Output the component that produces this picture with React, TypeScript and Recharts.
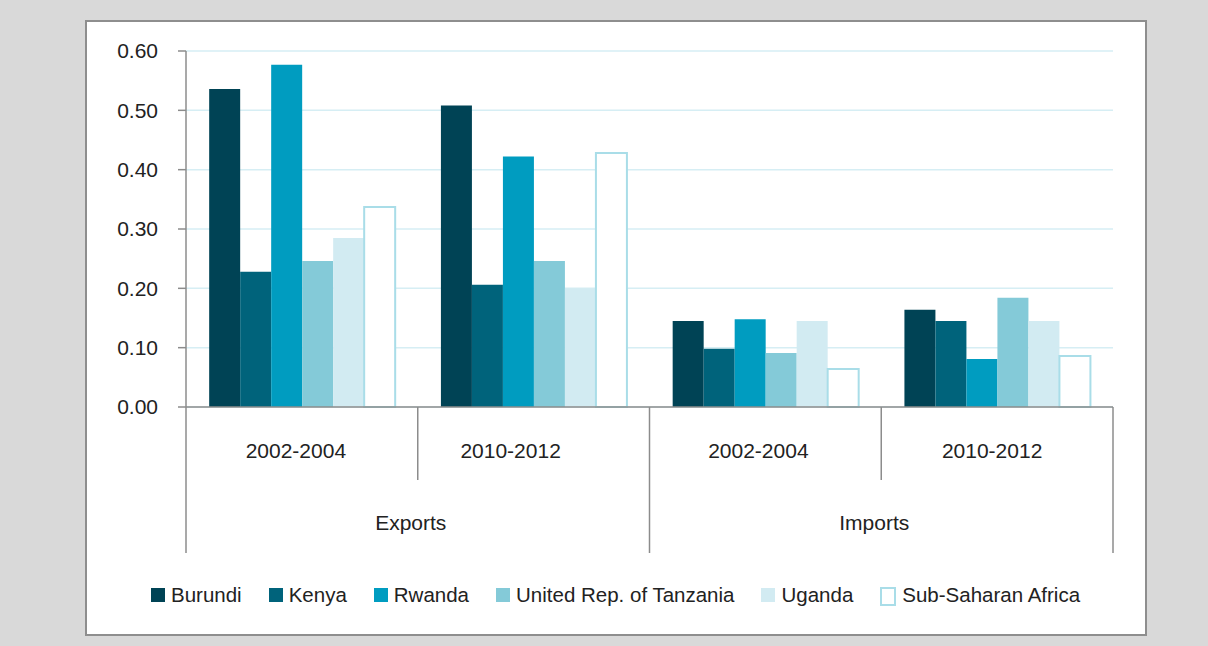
import React from "react"
import {
  BarChart,
  Bar,
  XAxis,
  YAxis,
  CartesianGrid,
  Legend,
} from "recharts"

// categories
const periods = ["2002-2004", "2010-2012", "2002-2004", "2010-2012"]
const groups = ["Exports", "Exports", "Imports", "Imports"]

// series values
const burundi = [0.536, 0.508, 0.145, 0.164]
const kenya = [0.228, 0.206, 0.098, 0.145]
const rwanda = [0.577, 0.422, 0.148, 0.081]
const tanzania = [0.246, 0.246, 0.091, 0.184]
const uganda = [0.285, 0.2, 0.145, 0.145]
const ssa = [0.337, 0.428, 0.064, 0.086]

const yTicks = [0, 0.1, 0.2, 0.3, 0.4, 0.5, 0.6]

const SERIES = [
  { key: "burundi", name: "Burundi", fill: "#004355", stroke: "none" },
  { key: "kenya", name: "Kenya", fill: "#00637b", stroke: "none" },
  { key: "rwanda", name: "Rwanda", fill: "#009cc0", stroke: "none" },
  { key: "tanzania", name: "United Rep. of Tanzania", fill: "#84cad8", stroke: "none" },
  { key: "uganda", name: "Uganda", fill: "#d2ebf2", stroke: "none" },
  { key: "ssa", name: "Sub-Saharan Africa", fill: "#ffffff", stroke: "#a9dde8" },
]

const data = periods.map((period, i) => ({
  period,
  group: groups[i],
  burundi: burundi[i],
  kenya: kenya[i],
  rwanda: rwanda[i],
  tanzania: tanzania[i],
  uganda: uganda[i],
  ssa: ssa[i],
}))

const FONT = "'Liberation Sans', Arial, sans-serif"
const AXIS = "#8c8c8c"
const TEXT = "#222"

const W = 1208
const H = 646
const MARGIN = { top: 51, right: 95, bottom: 0, left: 106 }
const Y_AXIS_W = 80
const BAND_HALF = (W - MARGIN.left - Y_AXIS_W - MARGIN.right) / periods.length / 2

// the original labels sit a little left of the band centres
const PERIOD_DX = [-6, -23, -7, -5]
const GROUP_DX = -7

// two level category axis: period labels + group labels with divider lines
function TwoLevelTick(props: any) {
  const { x, y, payload, index } = props
  const half = payload && payload.offset ? payload.offset : BAND_HALF
  const left = x - half
  const right = x + half
  const firstOfGroup = index === 0 || groups[index] !== groups[index - 1]
  const last = index === periods.length - 1
  return (
    <g>
      <line
        x1={left}
        x2={left}
        y1={y}
        y2={y + (firstOfGroup ? 146 : 73)}
        stroke={AXIS}
        strokeWidth={1.5}
      />
      {last && (
        <line x1={right} x2={right} y1={y} y2={y + 146} stroke={AXIS} strokeWidth={1.5} />
      )}
      <text
        x={x + (PERIOD_DX[index] || 0)}
        y={y + 51}
        textAnchor="middle"
        fontSize={21}
        fill={TEXT}
        fontFamily={FONT}
      >
        {payload.value}
      </text>
      {firstOfGroup && (
        <text
          x={right + GROUP_DX}
          y={y + 123}
          textAnchor="middle"
          fontSize={21}
          fill={TEXT}
          fontFamily={FONT}
        >
          {groups[index]}
        </text>
      )}
    </g>
  )
}

function LegendContent() {
  return (
    <div
      style={{
        display: "flex",
        alignItems: "center",
        paddingLeft: 151,
        paddingTop: 30,
        fontFamily: FONT,
        fontSize: 20.5,
        color: TEXT,
        lineHeight: "20px",
        whiteSpace: "nowrap",
      }}
    >
      {SERIES.map((s) => (
        <div key={s.key} style={{ display: "flex", alignItems: "center", marginRight: 27 }}>
          <span
            style={{
              display: "inline-block",
              width: s.stroke === "none" ? 14 : 12,
              height: s.stroke === "none" ? 14 : 15,
              marginTop: s.stroke === "none" ? 0 : 4,
              background: s.fill,
              border: s.stroke === "none" ? "none" : `2px solid ${s.stroke}`,
              marginRight: 6,
            }}
          />
          <span>{s.name}</span>
        </div>
      ))}
    </div>
  )
}

export default function App() {
  return (
    <div
      style={{
        position: "absolute",
        left: 0,
        top: 0,
        width: W,
        height: H,
        background: "#d9d9d9",
      }}
    >
      <div
        style={{
          position: "absolute",
          left: 85,
          top: 20,
          width: 1062,
          height: 616,
          boxSizing: "border-box",
          border: "2px solid #8e8e8e",
          background: "#fff",
        }}
      />
      <div style={{ position: "absolute", left: 0, top: 0 }}>
        <BarChart
          width={W}
          height={H}
          data={data}
          margin={MARGIN}
          barCategoryGap="10%"
          barGap={0}
          style={{ fontFamily: FONT }}
        >
          <CartesianGrid vertical={false} stroke="#d6eef4" strokeWidth={1.5} />
          <XAxis
            dataKey="period"
            height={146}
            tickLine={false}
            tickSize={0}
            tickMargin={0}
            axisLine={{ stroke: AXIS, strokeWidth: 1.5 }}
            tick={<TwoLevelTick />}
            interval={0}
          />
          <YAxis
            width={Y_AXIS_W}
            domain={[0, 0.6]}
            ticks={yTicks}
            tickFormatter={(v: number) => v.toFixed(2)}
            tickSize={8}
            tickMargin={20}
            tickLine={{ stroke: AXIS, strokeWidth: 1.5 }}
            axisLine={{ stroke: AXIS, strokeWidth: 1.5 }}
            tick={{ fontSize: 21, fill: TEXT, fontFamily: FONT }}
          />
          <Legend verticalAlign="bottom" content={<LegendContent />} wrapperStyle={{ left: 0, width: W, height: 93 }} />
          {SERIES.map((s) => (
            <Bar
              key={s.key}
              dataKey={s.key}
              name={s.name}
              fill={s.fill}
              stroke={s.stroke}
              strokeWidth={s.stroke === "none" ? 0 : 2}
              isAnimationActive={false}
            />
          ))}
        </BarChart>
      </div>
    </div>
  )
}
